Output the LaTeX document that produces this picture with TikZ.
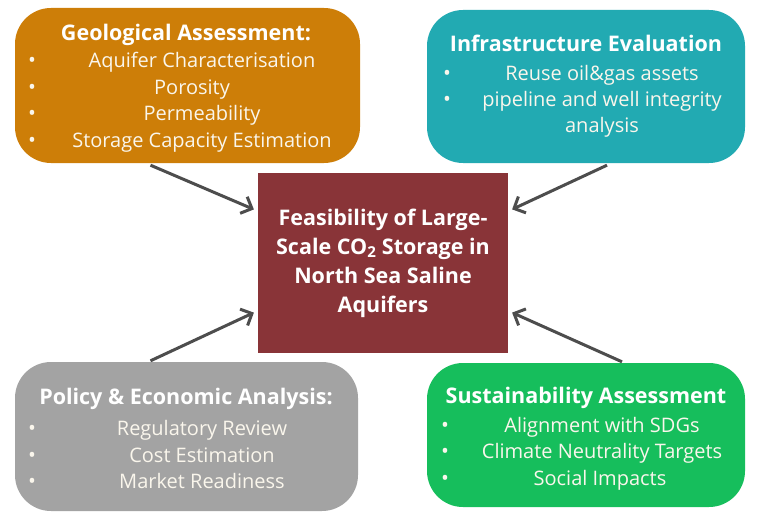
\documentclass[tikz,border=0pt]{standalone}
\usepackage{fontspec}
\setmainfont{Open Sans}
\usetikzlibrary{arrows.meta}

\definecolor{geoOrange}{RGB}{205,126,8}
\definecolor{infraTeal}{RGB}{34,170,178}
\definecolor{policyGray}{RGB}{163,163,163}
\definecolor{sustGreen}{RGB}{22,190,92}
\definecolor{coreRed}{RGB}{137,52,56}
\definecolor{arrowGray}{RGB}{77,77,77}
\definecolor{cream}{RGB}{250,246,236}

\begin{document}
\begin{tikzpicture}[x=1pt, y=-1pt]
	\tikzstyle{Box} = [rectangle, rounded corners=36pt, inner sep=0pt]
	\tikzstyle{Head} = [anchor=base, text=white, font=\fontsize{21.5}{25}\selectfont\bfseries, inner sep=0pt]
	\tikzstyle{Item} = [anchor=base, text=cream, font=\fontsize{20}{24}\selectfont, inner sep=0pt]
	\tikzstyle{Dot} = [anchor=base, text=cream, font=\fontsize{21}{24}\selectfont, inner sep=0pt]
	\tikzstyle{arrow} = [line width=3pt, draw=arrowGray, -{Straight Barb[length=9pt, width=18pt]}, shorten >=1pt]
	
	\useasboundingbox (0,0) rectangle (775,513);
	
	\node (feas) [rectangle, fill=coreRed, minimum width=250pt, minimum height=180pt, text=white, align=center, font=\fontsize{21.5}{29}\selectfont\bfseries] at (383,263) {Feasibility of Large-\\Scale CO\textsubscript{2} Storage in\\North Sea Saline\\Aquifers};
	
	\node (geo) [Box, fill=geoOrange, minimum width=345pt, minimum height=155pt] at (187.5,85.5) {};
	\node (geoHead) [Head] at (186,41) {Geological Assessment:};
	\node (geoA) [Item] at (202,68) {Aquifer Characterisation};
	\node (geoB) [Item] at (192,95) {Porosity};
	\node (geoC) [Item] at (202,121) {Permeability};
	\node (geoD) [Item] at (202,148) {Storage Capacity Estimation};
	\node (geoDotA) [Dot] at (32,68) {•};
	\node (geoDotB) [Dot] at (32,95) {•};
	\node (geoDotC) [Dot] at (32,121) {•};
	\node (geoDotD) [Dot] at (32,148) {•};
	
	\node (infra) [Box, fill=infraTeal, minimum width=318pt, minimum height=153pt] at (586,86.5) {};
	\node (infraHead) [Head] at (586,52) {Infrastructure Evaluation};
	\node (infraA) [Item] at (602,81) {Reuse oil\&gas assets};
	\node (infraB) [Item] at (602,107) {pipeline and well integrity};
	\node (infraC) [Item] at (602,133) {analysis};
	\node (infraDotA) [Dot] at (447,81) {•};
	\node (infraDotB) [Dot] at (447,107) {•};
	
	\node (policy) [Box, fill=policyGray, minimum width=343pt, minimum height=149pt] at (186.5,436.5) {};
	\node (policyHead) [Head] at (186,404) {Policy \& Economic Analysis:};
	\node (policyA) [Item] at (202,435) {Regulatory Review};
	\node (policyB) [Item] at (202,462) {Cost Estimation};
	\node (policyC) [Item] at (202,488) {Market Readiness};
	\node (policyDotA) [Dot] at (32,435) {•};
	\node (policyDotB) [Dot] at (32,462) {•};
	\node (policyDotC) [Dot] at (32,488) {•};
	
	\node (sust) [Box, fill=sustGreen, minimum width=318pt, minimum height=144pt] at (586,435) {};
	\node (sustHead) [Head] at (586,403) {Sustainability Assessment};
	\node (sustA) [Item] at (602,432) {Alignment with SDGs};
	\node (sustB) [Item] at (602,458) {Climate Neutrality Targets};
	\node (sustC) [Item] at (600,485) {Social Impacts};
	\node (sustDotA) [Dot] at (445,432) {•};
	\node (sustDotB) [Dot] at (445,458) {•};
	\node (sustDotC) [Dot] at (445,485) {•};
	
	\draw [arrow] ([xshift=-37pt, yshift=-2pt]geo.south) -- ([xshift=-3pt, yshift=-37pt]feas.north west);
	\draw [arrow] ([xshift=21pt, yshift=-2pt]infra.south) -- ([xshift=3pt, yshift=-37pt]feas.north east);
	\draw [arrow] ([xshift=-36pt, yshift=1pt]policy.north) -- ([xshift=-3pt, yshift=41pt]feas.south west);
	\draw [arrow] ([xshift=36pt, yshift=1pt]sust.north) -- ([xshift=3pt, yshift=41pt]feas.south east);
\end{tikzpicture}
\end{document}
